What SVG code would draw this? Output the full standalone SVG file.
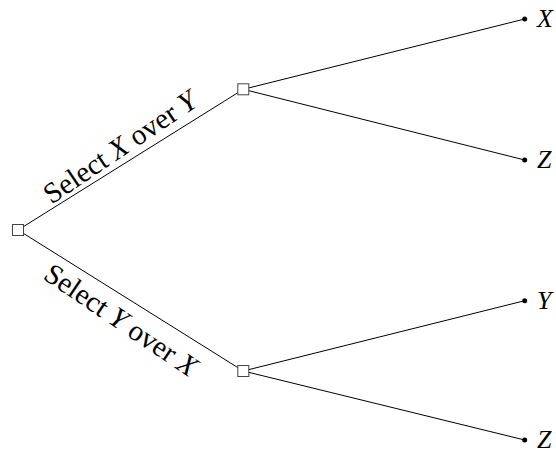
<svg xmlns="http://www.w3.org/2000/svg" width="556" height="453" viewBox="0 0 556 453">
  <style>
    .edge { stroke: #000; stroke-width: 1; fill: none; }
    .dec { fill: #fff; stroke: #444; stroke-width: 1; }
    .leaf { fill: #000; }
    .lbl { font-family: "Liberation Serif", "Times New Roman", serif; font-size: 29px; fill: #000; }
    .leaf-lbl { font-family: "Liberation Serif", "Times New Roman", serif; font-size: 26px; font-style: italic; fill: #000; }
    .it { font-style: italic; }
  </style>
  <rect width="556" height="453" fill="#fff"/>
  <g id="connectors">
    <line class="edge" x1="18" y1="230" x2="243.3" y2="89.3"/>
    <line class="edge" x1="18" y1="230" x2="243.3" y2="371"/>
    <line class="edge" x1="243.3" y1="89.3" x2="524.7" y2="19"/>
    <line class="edge" x1="243.3" y1="89.3" x2="524.7" y2="160"/>
    <line class="edge" x1="243.3" y1="371" x2="524.7" y2="300.7"/>
    <line class="edge" x1="243.3" y1="371" x2="524.7" y2="440"/>
  </g>
  <g id="edge-labels">
    <text class="lbl" text-anchor="middle" transform="translate(125.3,154.9) rotate(-34)">Select <tspan class="it">X</tspan> over <tspan class="it">Y</tspan></text>
    <text class="lbl" text-anchor="middle" transform="translate(115.7,327.9) rotate(34)">Select <tspan class="it">Y</tspan> over <tspan class="it">X</tspan></text>
  </g>
  <g id="root">
    <rect class="dec" x="12.5" y="224.5" width="11" height="11"/>
  </g>
  <g id="choice-x">
    <rect class="dec" x="237.8" y="83.8" width="11" height="11"/>
  </g>
  <g id="choice-y">
    <rect class="dec" x="237.8" y="365.5" width="11" height="11"/>
  </g>
  <g id="leaf-x">
    <circle class="leaf" cx="524.7" cy="19" r="2.5"/>
    <text class="leaf-lbl" x="537" y="27">X</text>
  </g>
  <g id="leaf-z1">
    <circle class="leaf" cx="524.7" cy="160" r="2.5"/>
    <text class="leaf-lbl" x="537" y="168">Z</text>
  </g>
  <g id="leaf-y">
    <circle class="leaf" cx="524.7" cy="300.7" r="2.5"/>
    <text class="leaf-lbl" x="537" y="308.7">Y</text>
  </g>
  <g id="leaf-z2">
    <circle class="leaf" cx="524.7" cy="440" r="2.5"/>
    <text class="leaf-lbl" x="537" y="448">Z</text>
  </g>
</svg>
